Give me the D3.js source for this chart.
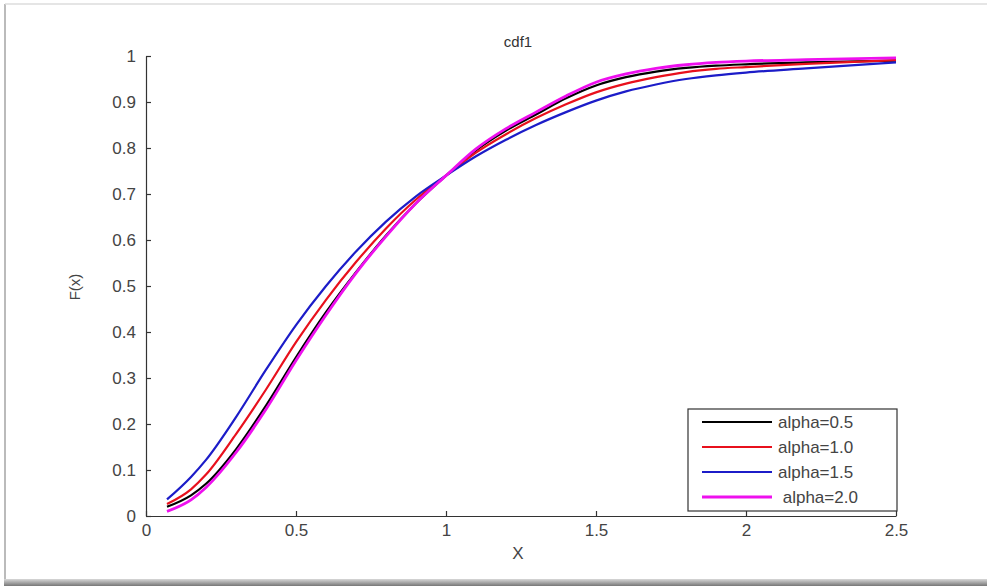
<!DOCTYPE html>
<html>
<head>
<meta charset="utf-8">
<script src="https://cdn.jsdelivr.net/npm/d3@7"></script>
<style>
  body { margin: 0; background: #fff; }
  .axis path, .axis line { stroke: #333; stroke-width: 1.2px; }
  .axis text { font-family: "Liberation Sans", Arial, sans-serif; font-size: 17px; fill: #444; }
</style>
</head>
<body>
<div id="chart"></div>
<script>
// data
var xs = [0.07, 0.15, 0.2, 0.3, 0.4, 0.5, 0.6, 0.7, 0.8, 0.9, 1.0, 1.1, 1.2, 1.3, 1.4, 1.5, 1.6, 1.7, 1.8, 1.9, 2.0, 2.2, 2.5];
var alpha05 = [0.02, 0.045, 0.07, 0.145, 0.24, 0.345, 0.443, 0.53, 0.61, 0.68, 0.74, 0.795, 0.838, 0.873, 0.908, 0.936, 0.954, 0.966, 0.974, 0.979, 0.982, 0.986, 0.99];
var alpha10 = [0.026, 0.058, 0.09, 0.178, 0.275, 0.378, 0.47, 0.552, 0.625, 0.688, 0.74, 0.79, 0.83, 0.865, 0.895, 0.921, 0.94, 0.954, 0.965, 0.972, 0.976, 0.983, 0.991];
var alpha15 = [0.036, 0.085, 0.122, 0.215, 0.318, 0.415, 0.5, 0.575, 0.64, 0.695, 0.74, 0.782, 0.818, 0.85, 0.878, 0.903, 0.923, 0.938, 0.95, 0.958, 0.964, 0.973, 0.986];
var alpha20 = [0.01, 0.035, 0.062, 0.138, 0.232, 0.338, 0.437, 0.528, 0.608, 0.68, 0.74, 0.798, 0.842, 0.878, 0.913, 0.943, 0.961, 0.973, 0.981, 0.986, 0.989, 0.992, 0.996];

var seriesNames = ["alpha=0.5", "alpha=1.0", "alpha=1.5", " alpha=2.0"];
var seriesColors = ["#000000", "#e8101c", "#1c1cc8", "#ee10ee"];
var seriesValues = [alpha05, alpha10, alpha15, alpha20];

var xTicks = [0, 0.5, 1, 1.5, 2, 2.5];
var yTicks = [0, 0.1, 0.2, 0.3, 0.4, 0.5, 0.6, 0.7, 0.8, 0.9, 1];

var W = 987, H = 586;
var margin = {left: 146, right: 91, top: 56, bottom: 70};

var svg = d3.select("#chart").append("svg")
	.attr("width", W)
	.attr("height", H);

// picture frame
svg.append("rect").attr("x", 0).attr("y", 0).attr("width", W).attr("height", H).attr("fill", "#fff");
svg.append("line").attr("x1", 5).attr("y1", 4).attr("x2", 5).attr("y2", 580).attr("stroke", "#bbb").attr("stroke-width", 2);
svg.append("line").attr("x1", 5).attr("y1", 4).attr("x2", W).attr("y2", 4).attr("stroke", "#ddd").attr("stroke-width", 1.5);
var grad = svg.append("defs").append("linearGradient").attr("id", "shadow").attr("x1", 0).attr("y1", 0).attr("x2", 0).attr("y2", 1);
grad.append("stop").attr("offset", "0%").attr("stop-color", "#d8d8d8");
grad.append("stop").attr("offset", "100%").attr("stop-color", "#777");
svg.append("rect").attr("x", 4).attr("y", 579).attr("width", W - 4).attr("height", 7).attr("fill", "url(#shadow)");

// scales
var x = d3.scaleLinear()
	.domain([0, 2.5])
	.range([margin.left, W - margin.right]);
var y = d3.scaleLinear()
	.domain([0, 1])
	.range([H - margin.bottom, margin.top]);

// axes, ticks pointing inward
var xAxis = d3.axisBottom(x)
	.tickValues(xTicks)
	.tickFormat(d3.format("~g"))
	.tickSizeInner(-5)
	.tickSizeOuter(0)
	.tickPadding(8);
var yAxis = d3.axisLeft(y)
	.tickValues(yTicks)
	.tickFormat(d3.format("~g"))
	.tickSizeInner(-5)
	.tickSizeOuter(0)
	.tickPadding(10);

svg.append("g")
	.attr("class", "axis")
	.attr("transform", "translate(0," + (H - margin.bottom) + ")")
	.call(xAxis);
svg.append("g")
	.attr("class", "axis")
	.attr("transform", "translate(" + margin.left + ",0)")
	.call(yAxis);

// labels
svg.append("text")
	.attr("x", 518).attr("y", 47)
	.attr("text-anchor", "middle")
	.style("font-family", "Liberation Sans, Arial, sans-serif")
	.style("font-size", "15px").style("fill", "#333")
	.text("cdf1");
svg.append("text")
	.attr("x", 518).attr("y", 559)
	.attr("text-anchor", "middle")
	.style("font-family", "Liberation Sans, Arial, sans-serif")
	.style("font-size", "17px").style("fill", "#444")
	.text("X");
svg.append("text")
	.attr("transform", "translate(80,287) rotate(-90)")
	.attr("text-anchor", "middle")
	.style("font-family", "Liberation Sans, Arial, sans-serif")
	.style("font-size", "15px").style("fill", "#444")
	.text("F(x)");

// curves
var line = d3.line()
	.x(function(d){ return x(d[0]); })
	.y(function(d){ return y(d[1]); })
	.curve(d3.curveMonotoneX);

svg.selectAll(".curve")
	.data(seriesValues)
	.enter()
	.append("path")
	.attr("class", "curve")
	.attr("fill", "none")
	.attr("stroke", function(d, i){ return seriesColors[i]; })
	.attr("stroke-width", function(d, i){ return i == 3 ? 2.8 : 2.2; })
	.attr("d", function(d){ return line(xs.map(function(v, j){ return [v, d[j]]; })); });

// legend
var lg = svg.append("g").attr("transform", "translate(688,409)");
lg.append("rect")
	.attr("width", 209).attr("height", 102)
	.attr("fill", "#fff").attr("stroke", "#333").attr("stroke-width", 1.2);
var rows = lg.selectAll(".row")
	.data(seriesNames)
	.enter()
	.append("g")
	.attr("transform", function(d, i){ return "translate(0," + (13 + i * 25) + ")"; });
rows.append("line")
	.attr("x1", 14).attr("x2", 84)
	.attr("stroke", function(d, i){ return seriesColors[i]; })
	.attr("stroke-width", function(d, i){ return i == 3 ? 2.8 : 2.2; });
rows.append("text")
	.attr("x", 90).attr("dy", "0.35em")
	.style("font-family", "Liberation Sans, Arial, sans-serif")
	.style("font-size", "17px").style("fill", "#444")
	.style("white-space", "pre")
	.text(function(d){ return d; });
</script>
</body>
</html>
